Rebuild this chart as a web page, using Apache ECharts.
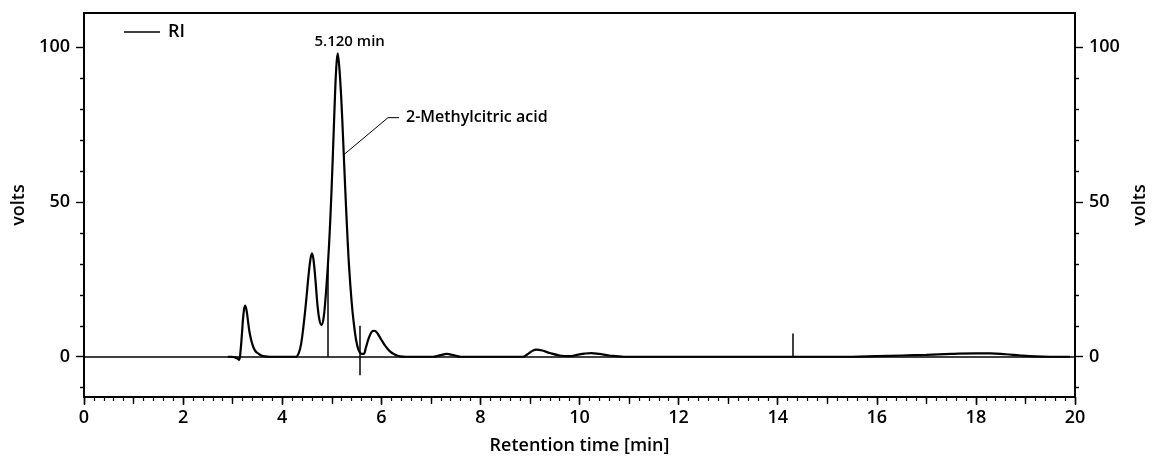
<!DOCTYPE html>
<html>
<head>
<meta charset="utf-8">
<script src="https://cdn.jsdelivr.net/npm/echarts@6/dist/echarts.min.js"></script>
<style>html,body{margin:0;padding:0;background:#fff}#c{width:1154px;height:466px}</style>
</head>
<body>
<div id="c"></div>
<script>
// ---- data ----
var times = [2.90,2.98,3.05,3.10,3.13,3.16,3.19,3.22,3.25,3.28,3.31,3.34,3.38,3.42,3.47,3.52,3.58,3.66,3.75,
  4.28,4.33,4.38,4.43,4.48,4.53,4.57,4.60,4.63,4.67,4.71,4.75,4.79,4.83,4.87,4.92,4.97,5.02,5.06,5.09,5.12,5.15,5.19,5.23,5.27,5.31,5.35,5.40,5.44,5.49,5.54,5.59,5.64,5.69,5.75,5.81,5.86,5.92,6.00,6.08,6.17,6.27,6.38,6.50,
  7.05,7.20,7.32,7.45,7.60,8.85,8.95,9.05,9.13,9.25,9.40,9.60,9.80,9.95,10.10,10.24,10.40,10.60,10.90,
  15.50,16.00,16.50,17.00,17.50,18.00,18.30,18.60,18.90,19.20,19.50,19.90];
var volts = [0,0,-0.2,-0.6,-1.0,2,8,14,16.5,15,11.5,8,5,3,1.6,1,0.4,0.1,0,
  0,1,4,10,17.5,26,31.5,33.4,31.5,25,17,12,10.3,12,18,29,44,64,82,93,98,94,84,70,55,41,29,18,11.5,5.5,2.2,1.0,0.9,3,6.2,8.1,8.4,7.6,5.5,3.5,1.8,0.7,0.1,0,
  0,0.5,0.9,0.5,0,0,0.8,1.9,2.3,2,1.2,0.4,0.2,0.6,1.0,1.2,0.9,0.4,0,
  0,0.2,0.4,0.6,0.9,1.1,1.1,0.8,0.4,0.1,0,0];
// integration markers: [time, from volts, to volts]
var markers = [[4.92, 0, 30], [5.57, -6, 10], [14.31, 0, 7.5]];
var xLabels = [0,2,4,6,8,10,12,14,16,18,20];
var yLabels = [0,50,100];
var yMinor = [-10,10,20,30,40,60,70,80,90];
var peakNote = {t: 5.12, v: 98, text: '5.120 min'};
var leaderPts = [[5.24,65.2],[6.135,77.2],[6.357,77.2]];
var leaderText = '2-Methylcitric acid';

var FONT = 'Open Sans';
var LW = 600;
var signal = times.map(function(t,i){return [t, volts[i]];});
var markerLines = markers.map(function(m){return [{coord:[m[0],m[1]]},{coord:[m[0],m[2]]}];});

function yAx(pos, major){
  var a = {type:'value', min:-13, max:111, position:pos, splitLine:{show:false},
    axisLine:{show:major, lineStyle:{color:'#000', width:1.8}},
    axisTick:{show:true, customValues: major?yLabels:yMinor, length: major?8:4, lineStyle:{color:'#000', width:1.4}},
    axisLabel:{show:major, customValues:yLabels, color:'#000', fontFamily:FONT, fontSize:18, fontWeight:LW, margin:14}};
  if(major){a.name='volts'; a.nameLocation='middle'; a.nameRotate=90; a.nameGap=(pos==='left'?46:56);
    a.nameTextStyle={color:'#000', fontFamily:FONT, fontSize:18, fontWeight:LW};}
  return a;
}

var chart = echarts.init(document.getElementById('c'));
chart.setOption({
  animation:false,
  grid:{left:84, right:79, top:13, bottom:69, show:true, borderColor:'#000', borderWidth:1.8,
        containLabel:false, outerBoundsMode:'none'},
  legend:{data:[{name:'RI', icon:'rect'}], left:119, top:18, itemWidth:36, itemHeight:1.6, itemGap:10,
    textStyle:{color:'#000', fontFamily:FONT, fontSize:18, fontWeight:LW, padding:[0,0,0,3]}},
  xAxis:[
    {type:'value', min:0, max:20, interval:2, position:'bottom',
     name:'Retention time [min]', nameLocation:'middle', nameGap:40,
     nameTextStyle:{color:'#000', fontFamily:FONT, fontSize:18, fontWeight:LW},
     splitLine:{show:false},
     axisLine:{onZero:false, lineStyle:{color:'#000', width:1.8}},
     axisTick:{length:8, lineStyle:{color:'#000', width:1.4}},
     minorTick:{show:true, splitNumber:10, length:4, lineStyle:{color:'#000', width:1.2}},
     axisLabel:{color:'#000', fontFamily:FONT, fontSize:18, fontWeight:LW, margin:12}},
    {type:'value', min:0, max:20, interval:1, position:'bottom',
     splitLine:{show:false}, axisLine:{show:false, onZero:false}, axisLabel:{show:false},
     axisTick:{length:7, lineStyle:{color:'#000', width:1.4}}}
  ],
  yAxis:[yAx('left',true), yAx('left',false), yAx('right',true), yAx('right',false)],
  series:[
    {name:'RI', type:'line', data:signal, showSymbol:false, symbol:'none',
     smooth:0.4, z:5,
     lineStyle:{color:'#000', width:2.2}, itemStyle:{color:'#000'},
     markLine:{silent:true, symbol:'none', label:{show:false},
       lineStyle:{color:'#000', width:1.5, type:'solid'},
       data:[{yAxis:0}].concat(markerLines)},
     markPoint:{silent:true, symbol:'circle', symbolSize:0,
       data:[{coord:[peakNote.t, peakNote.v],
         label:{show:true, position:'top', distance:4, offset:[12,0], formatter:peakNote.text,
           color:'#000', fontFamily:FONT, fontSize:15, fontWeight:600}}]}},
    {name:'leader', type:'line', data:leaderPts, symbol:'none', silent:true,
     lineStyle:{color:'#000', width:1},
     endLabel:{show:true, formatter:leaderText, distance:7, color:'#000',
       fontFamily:FONT, fontSize:16, fontWeight:600}}
  ]
});
</script>
</body>
</html>
